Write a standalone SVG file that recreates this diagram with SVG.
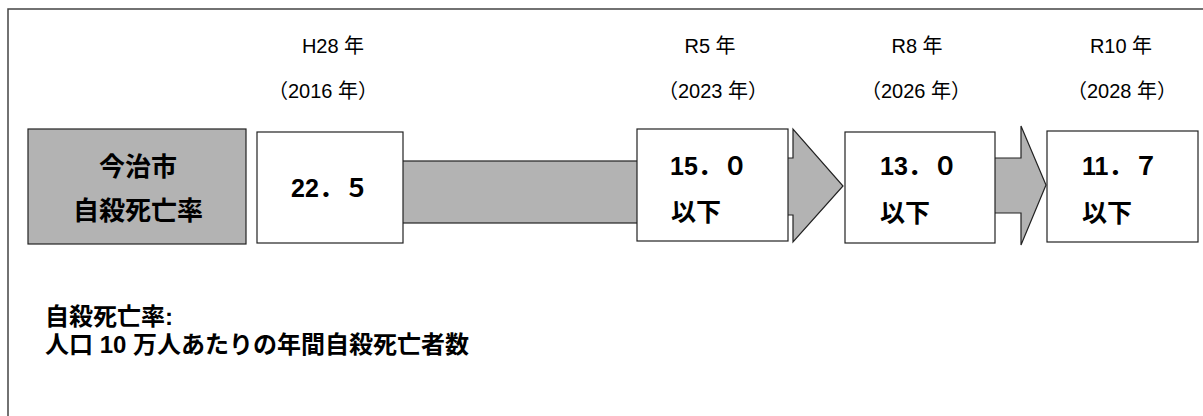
<svg xmlns="http://www.w3.org/2000/svg" width="1203" height="416" viewBox="0 0 1203 416">
<style>
text{font-family:"Liberation Sans","Noto Sans CJK JP",sans-serif;fill:#000}
.hd{font-size:20px;text-anchor:middle}
.bx{fill:#fff;stroke:#222;stroke-width:1.2}
.gr{fill:#b3b3b3;stroke:#222;stroke-width:1.2}
.val{font-size:25px;font-weight:bold}
.lbl{font-size:26px;font-weight:bold;text-anchor:middle}
.note{font-size:24px;font-weight:bold}
</style>
<rect x="8" y="9" width="1210" height="430" fill="#fff" stroke="#444" stroke-width="1.5"/>
<g id="headers">
<text class="hd" x="333" y="53">H28 年</text>
<text class="hd" x="323" y="98">（2016 年）</text>
<text class="hd" x="710" y="53">R5 年</text>
<text class="hd" x="713" y="98">（2023 年）</text>
<text class="hd" x="917" y="53">R8 年</text>
<text class="hd" x="916" y="98">（2026 年）</text>
<text class="hd" x="1121" y="53">R10 年</text>
<text class="hd" x="1122" y="98">（2028 年）</text>
</g>
<g id="connectors">
<rect class="gr" x="400" y="161" width="240" height="62"/>
<polygon class="gr" points="785,158 793,158 793,129 843,186 793,242 793,215 785,215"/>
<polygon class="gr" points="992,158 1021,158 1021,126 1046,185 1021,245 1021,213 992,213"/>
</g>
<g id="label">
<rect class="gr" x="28" y="129" width="218" height="115"/>
<text class="lbl" x="138" y="176">今治市</text>
<text class="lbl" x="138" y="220">自殺死亡率</text>
</g>
<g id="h28">
<rect class="bx" x="257" y="132" width="146" height="111"/>
<text class="val" x="330" y="197" text-anchor="middle">22．５</text>
</g>
<g id="r5">
<rect class="bx" x="637" y="129" width="151" height="112"/>
<text class="val" x="670" y="175">15．０</text>
<text class="val" x="671" y="221">以下</text>
</g>
<g id="r8">
<rect class="bx" x="845" y="132" width="150" height="111"/>
<text class="val" x="880" y="175">13．０</text>
<text class="val" x="880" y="222">以下</text>
</g>
<g id="r10">
<rect class="bx" x="1047" y="131" width="151" height="111"/>
<text class="val" x="1082" y="175">11．７</text>
<text class="val" x="1082" y="222">以下</text>
</g>
<g id="note">
<text class="note" x="45" y="325">自殺死亡率:</text>
<text class="note" x="45" y="353">人口 10 万人あたりの年間自殺死亡者数</text>
</g>
</svg>
